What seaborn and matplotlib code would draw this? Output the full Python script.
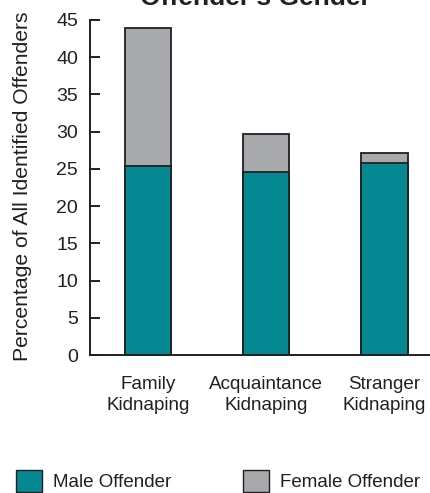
import matplotlib
matplotlib.use("Agg")
import matplotlib.pyplot as plt
import seaborn as sns
import pandas as pd
from matplotlib.patches import Patch

categories = ["Family\nKidnaping", "Acquaintance\nKidnaping", "Stranger\nKidnaping"]
male = [25.4, 24.6, 25.8]
female = [18.5, 5.1, 1.4]
yticks = [0, 5, 10, 15, 20, 25, 30, 35, 40, 45]

TEAL = "#058892"
GRAY = "#a7a9ac"
DARK = "#231f20"

sns.set_style("white")
plt.rcParams["font.family"] = ["Liberation Sans", "DejaVu Sans"]

df = pd.DataFrame({"cat": categories, "male": male,
                   "total": [m + f for m, f in zip(male, female)]})

fig = plt.figure(figsize=(4.30, 4.93), dpi=100)
ax = fig.add_axes([90/430, (493-355)/493, 1 - 90/430, (355-20)/493])

sns.barplot(data=df, x="cat", y="total", color=GRAY, edgecolor=DARK,
            linewidth=1.3, width=0.39, saturation=1, ax=ax)
sns.barplot(data=df, x="cat", y="male", color=TEAL, edgecolor=DARK,
            linewidth=1.3, width=0.39, saturation=1, ax=ax)

ax.set_ylim(0, 45)
ax.set_xlim(-0.488, 2.385)
ax.set_yticks(yticks)
ax.set_xlabel("")
ax.set_ylabel("Percentage of All Identified Offenders", fontsize=15.2,
              color=DARK)
ax.yaxis.set_label_coords(-0.172, 0.503)
ax.tick_params(axis="y", direction="in", length=7.2, width=1.4, color=DARK,
               labelsize=14, labelcolor=DARK, pad=8.6, left=True)
ax.tick_params(axis="x", length=0, labelsize=13.6, labelcolor=DARK, pad=15)
for lab in ax.get_xticklabels():
    lab.set_linespacing(1.3)
for s in ["top", "right"]:
    ax.spines[s].set_visible(False)
for s in ["left", "bottom"]:
    ax.spines[s].set_color(DARK)
    ax.spines[s].set_linewidth(1.4)

fig.text(0.595, 1 - 5/493, "Offender's Gender", ha="center", va="baseline",
         fontsize=19, fontweight="bold", color=DARK)

handles = [Patch(facecolor=TEAL, edgecolor=DARK, linewidth=1.0),
           Patch(facecolor=GRAY, edgecolor=DARK, linewidth=1.0)]
fig.legend(handles, ["Male Offender", "Female Offender"], ncol=2,
           loc="center left", bbox_to_anchor=(16/430, 1 - 481/493),
           frameon=False, fontsize=13.5, handlelength=1.39, handleheight=1.39,
           handletextpad=0.59, columnspacing=3.84, borderpad=0,
           borderaxespad=0, labelcolor=DARK)

fig.savefig("out.png", dpi=100)
